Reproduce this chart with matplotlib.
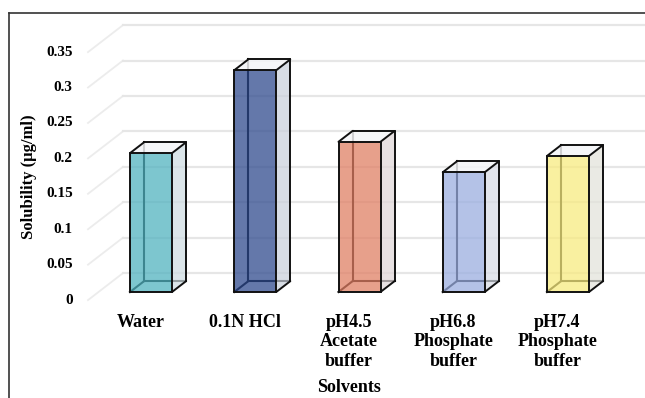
import matplotlib
matplotlib.use("Agg")
import matplotlib.pyplot as plt
from matplotlib.patches import Polygon
from matplotlib.lines import Line2D
import matplotlib.colors as mcolors
import numpy as np

# ---- data -------------------------------------------------------------
categories = ["Water", "0.1N HCl", "pH4.5\nAcetate\nbuffer",
              "pH6.8\nPhosphate\nbuffer", "pH7.4\nPhosphate\nbuffer"]
solubility = [0.196, 0.313, 0.212, 0.169, 0.192]
bar_colors = ["#52b3c0", "#304b8e", "#e08065", "#9baee0", "#f8eb80"]
y_ticks = [0, 0.05, 0.1, 0.15, 0.2, 0.25, 0.3, 0.35]
y_tick_labels = ["0", "0.05", "0.1", "0.15", "0.2", "0.25", "0.3", "0.35"]
x_title = "Solvents"
y_title = "Solubility (\u00b5g/ml)"

# ---- layout (pixels of a 645 x 398 canvas) ----------------------------
W, H, DPI = 645, 398, 100
FONT = ["Liberation Serif", "DejaVu Serif"]
plt.rcParams["font.family"] = FONT

fig = plt.figure(figsize=(W / DPI, H / DPI), dpi=DPI)
fig.patch.set_facecolor("white")

slot_px = 104.25          # distance between categories
left_px = 98.5            # left edge of bar-front plane
zero_px, top_px = 292, 44  # y of 0 and 0.35 on bar-front plane
ax = fig.add_axes([left_px / W, (H - zero_px) / H,
                   (W - left_px) / W, (zero_px - top_px) / H])
x0 = -(151 - left_px) / slot_px
ax.set_xlim(x0, x0 + (W - left_px) / slot_px)
ax.set_ylim(0, 0.35)
ax.axis("off")

# oblique depth: d = 1 moves 35 px right and 27 px up
DX = 35 / slot_px
DY = 27 / ((zero_px - top_px) / 0.35)
FLOOR_FRONT, BACK_WALL = -0.3, 0.7
BAR_DEPTH = 0.4
HALF_W = 21 / slot_px


def proj(x, y, d):
    return (x + d * DX, y + d * DY)


# ---- gridlines (floor front -> back wall -> right) --------------------
x_right = ax.get_xlim()[1] + 1
for v, lbl in zip(y_ticks, y_tick_labels):
    p0 = proj(x0, v, FLOOR_FRONT)
    p1 = proj(x0, v, BACK_WALL)
    p2 = proj(x_right, v, BACK_WALL)
    ax.add_line(Line2D([p0[0], p1[0]], [p0[1], p1[1]], color="#ececec",
                       lw=1.3, clip_on=False, zorder=1))
    ax.add_line(Line2D([p1[0], p2[0]], [p1[1], p2[1]], color="#e6e6e6",
                       lw=1.6, clip_on=False, zorder=1))
    ax.annotate(lbl, xy=p0, xytext=(-11, 0), textcoords="offset points",
                ha="right", va="center", fontsize=11, fontweight="bold",
                annotation_clip=False)

# ---- 3-D style bars -------------------------------------------------
side_gray = np.array(mcolors.to_rgb("#dfe2e6"))
for i, (val, col) in enumerate(zip(solubility, bar_colors)):
    xl, xr = i - HALF_W, i + HALF_W
    f_bl, f_br = proj(xl, 0, 0), proj(xr, 0, 0)
    f_tl, f_tr = proj(xl, val, 0), proj(xr, val, 0)
    b_bl, b_br = proj(xl, 0, BAR_DEPTH), proj(xr, 0, BAR_DEPTH)
    b_tl, b_tr = proj(xl, val, BAR_DEPTH), proj(xr, val, BAR_DEPTH)

    # hidden edges seen through the translucent faces
    for a, b in [(b_bl, b_tl), (b_bl, b_br), (f_bl, b_bl)]:
        ax.add_line(Line2D([a[0], b[0]], [a[1], b[1]], color="black",
                           lw=1.5, zorder=2, clip_on=False))

    rgb = np.array(mcolors.to_rgb(col))
    side_col = 0.88 * side_gray + 0.12 * rgb
    faces = [
        ([f_bl, f_br, f_tr, f_tl], col, 0.75),
        ([f_br, b_br, b_tr, f_tr], side_col, 0.72),
        ([f_tl, f_tr, b_tr, b_tl], "#f4f5f7", 0.85),
    ]
    for pts, fc, alpha in faces:
        ax.add_patch(Polygon(pts, closed=True, facecolor=fc, alpha=alpha,
                             edgecolor="none", zorder=3, clip_on=False))

    for a, b in [(f_bl, f_br), (f_br, f_tr), (f_tr, f_tl), (f_tl, f_bl),
                 (f_br, b_br), (b_br, b_tr), (f_tr, b_tr), (b_tr, b_tl),
                 (f_tl, b_tl)]:
        ax.add_line(Line2D([a[0], b[0]], [a[1], b[1]], color="#111111",
                           lw=1.4, zorder=4, clip_on=False,
                           solid_capstyle="round"))

    ax.annotate(categories[i], xy=proj(i, 0, FLOOR_FRONT), xytext=(0, -10),
                textcoords="offset points", ha="center", va="top",
                fontsize=13, fontweight="bold", linespacing=1.18,
                annotation_clip=False)

# ---- axis titles ------------------------------------------------------
ax.annotate(x_title, xy=proj(2, 0, FLOOR_FRONT), xytext=(0, -63),
            textcoords="offset points", ha="center", va="center",
            fontsize=13, fontweight="bold", annotation_clip=False)
fig.text(29 / W, 1 - 177 / H, y_title, rotation=90, ha="center",
         va="center", fontsize=12, fontweight="bold")

# ---- frame around the chart area ---------------------------------------
fig.add_artist(Line2D([9 / W, 1], [1 - 13 / H, 1 - 13 / H],
                      transform=fig.transFigure, color="#333333", lw=1.2))
fig.add_artist(Line2D([9 / W, 9 / W], [0, 1 - 13 / H],
                      transform=fig.transFigure, color="#333333", lw=1.2))

fig.savefig("out.png", dpi=DPI, facecolor="white")
